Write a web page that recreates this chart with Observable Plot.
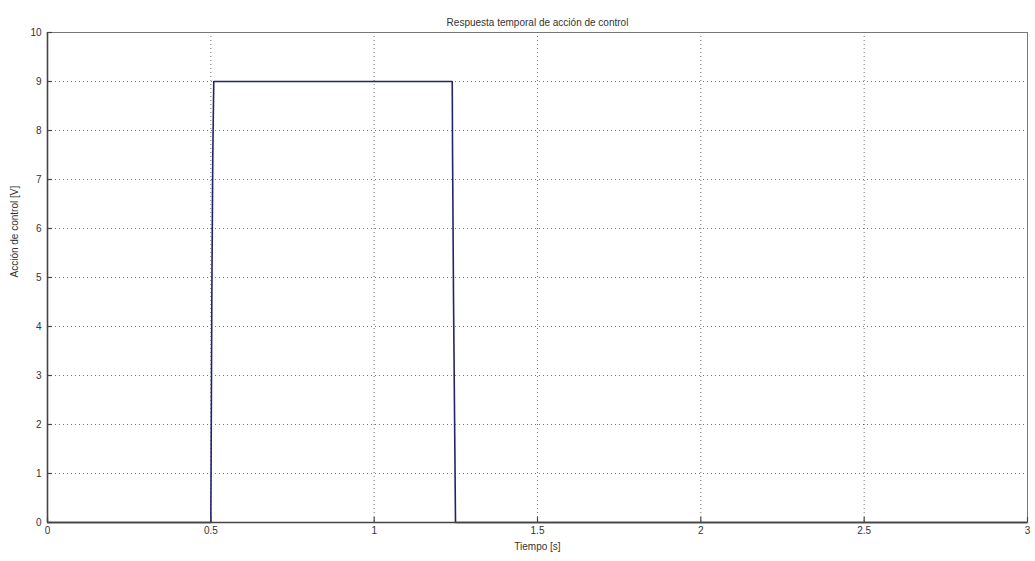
<!DOCTYPE html>
<html>
<head>
<meta charset="utf-8">
<script src="https://cdn.jsdelivr.net/npm/d3@7"></script>
<script src="https://cdn.jsdelivr.net/npm/@observablehq/plot@0.6"></script>
<style>
  html, body { margin: 0; padding: 0; background: #fff; }
  #chart svg { display: block; }
</style>
</head>
<body>
<div id="chart"></div>
<script>
const titleText = "Respuesta temporal de acción de control";
const xLabel = "Tiempo [s]";
const yLabel = "Acción de control [V]";
const xTicks = [0, 0.5, 1, 1.5, 2, 2.5, 3];
const yTicks = [0, 1, 2, 3, 4, 5, 6, 7, 8, 9, 10];
const time  = [0, 0.5, 0.501, 0.503, 0.506, 0.509, 1.239, 1.240, 1.243, 1.247, 1.249, 3];
const value = [0, 0,   1.5,   4.5,   7.5,   9,     9,     7.5,   4.5,   1.5,   0,     0];

const data = time.map((t, i) => ({t, v: value[i]}));
const font = "'Liberation Sans', Arial, Helvetica, sans-serif";

const chart = Plot.plot({
  width: 1035,
  height: 561,
  marginLeft: 47,
  marginRight: 8,
  marginTop: 32,
  marginBottom: 39,
  style: {fontFamily: font, fontSize: "10px", color: "#222", background: "#fff"},
  x: {domain: [0, 3], ticks: xTicks},
  y: {domain: [0, 10], ticks: yTicks},
  marks: [
    Plot.gridX(xTicks, {stroke: "#000", strokeOpacity: 0.55, strokeDasharray: "1,3"}),
    Plot.gridY(yTicks, {stroke: "#000", strokeOpacity: 0.55, strokeDasharray: "1,3"}),
    Plot.line(data, {x: "t", y: "v", stroke: "#22236e", strokeWidth: 1.6}),
    Plot.frame({stroke: "#777", strokeWidth: 1}),
    Plot.ruleY([0], {stroke: "#444", strokeWidth: 1.6}),
    Plot.ruleX([0], {stroke: "#444", strokeWidth: 1.6}),
    Plot.ruleX(xTicks, {y1: 0, y2: 0.1, stroke: "#444", strokeWidth: 1.2}),
    Plot.ruleY(yTicks, {x1: 0, x2: 0.015, stroke: "#444", strokeWidth: 1.2}),
    Plot.axisX(xTicks, {tickSize: 0, tickPadding: 4, label: null, fontSize: 10, fill: "#333", tickFormat: d => String(d)}),
    Plot.axisY(yTicks, {tickSize: 0, tickPadding: 6, label: null, fontSize: 10, fill: "#333", tickFormat: d => String(d)}),
    Plot.text([xLabel], {frameAnchor: "bottom", dy: 27, fontSize: 10, fill: "#333"}),
    Plot.text([yLabel], {frameAnchor: "left", dx: -33, rotate: -90, fontSize: 10, fill: "#333"}),
    Plot.text([titleText], {frameAnchor: "top", dy: -14, fontSize: 10, fill: "#333"})
  ]
});
document.getElementById("chart").appendChild(chart);
</script>
</body>
</html>
